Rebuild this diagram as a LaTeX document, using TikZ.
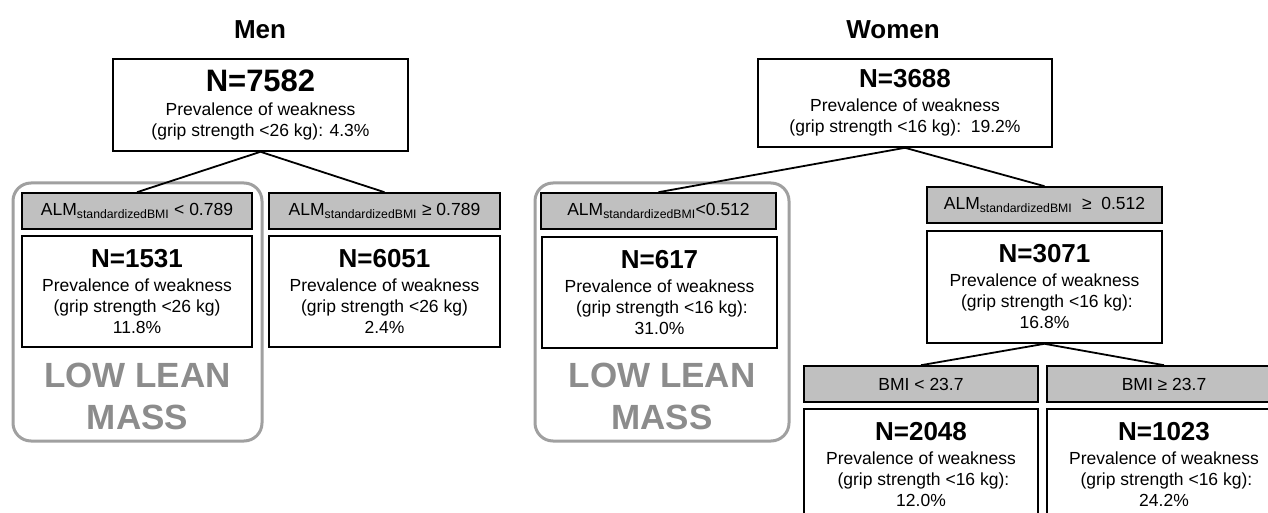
\documentclass[tikz,border=0pt]{standalone}
\usepackage{fontspec}
\setmainfont{Liberation Sans}
\definecolor{labgray}{HTML}{C0C0C0}
\definecolor{framegray}{HTML}{A0A0A0}
\definecolor{lowgray}{HTML}{8C8C8C}
\tikzset{
  whitebox/.style={draw=black, line width=1.6pt, fill=white, inner sep=0pt, align=center,
    font=\fontsize{17.5}{21}\selectfont},
  graybox/.style={whitebox, fill=labgray},
  lowframe/.style={draw=framegray, line width=3pt, rounded corners=18pt, inner sep=0pt},
  conn/.style={line width=1.8pt, draw=black},
  lowtext/.style={text=lowgray, font=\fontsize{35}{42}\selectfont\bfseries, align=center, inner sep=0pt},
  titletext/.style={font=\fontsize{26}{26}\selectfont\bfseries, inner sep=0pt},
}
\newcommand{\bigN}[1]{{\fontsize{26}{26}\selectfont\bfseries #1}}
\newcommand{\hugeN}[1]{{\fontsize{31}{31}\selectfont\bfseries #1}}
\newcommand{\alm}{ALM\textsubscript{standardizedBMI}}
\begin{document}
\begin{tikzpicture}[x=1pt,y=-1pt]
\useasboundingbox (0,0) rectangle (1268,513);
\clip (0,0) rectangle (1268,513);
\fill[white] (0,0) rectangle (1268,513);

% ---------- Men ----------
\node[titletext] (mtitle) at (260,30) {Men};
\node[lowframe, minimum width=249pt, minimum height=258pt] (mframe) at (137.5,312) {};
\node[whitebox, minimum width=295pt, minimum height=92pt] (mtop) at (260.5,105)
  {\hugeN{N=7582}\\[3pt] Prevalence of weakness\\(grip strength <26 kg): 4.3\%};
\node[graybox, minimum width=230pt, minimum height=36pt] (mlab1) at (137,211)
  {\alm{} < 0.789};
\node[graybox, minimum width=231pt, minimum height=36pt] (mlab2) at (384.5,211)
  {\alm{} ≥ 0.789};
\node[whitebox, minimum width=230pt, minimum height=111pt] (mbox1) at (137,291.5)
  {\bigN{N=1531}\\[3pt] Prevalence of weakness\\(grip strength <26 kg)\\11.8\%};
\node[whitebox, minimum width=231pt, minimum height=111pt] (mbox2) at (384.5,291.5)
  {\bigN{N=6051}\\[3pt] Prevalence of weakness\\(grip strength <26 kg)\\2.4\%};
\node[lowtext] (mlow) at (137.5,396) {LOW LEAN\\MASS};
\draw[conn] (mtop.south) -- (mlab1.north);
\draw[conn] (mtop.south) -- (mlab2.north);

% ---------- Women ----------
\node[titletext] (wtitle) at (893,30) {Women};
\node[lowframe, minimum width=254pt, minimum height=258pt] (wframe) at (662,312) {};
\node[whitebox, minimum width=294pt, minimum height=88pt] (wtop) at (905,103)
  {\bigN{N=3688}\\[3pt] Prevalence of weakness\\(grip strength <16 kg):\ \ 19.2\%};
\node[graybox, minimum width=235pt, minimum height=36pt] (wlab1) at (658.5,211)
  {\alm<0.512};
\node[whitebox, minimum width=235pt, minimum height=111pt] (wbox1) at (659.5,292.5)
  {\bigN{N=617}\\[3pt] Prevalence of weakness\\\ (grip strength <16 kg):\\31.0\%};
\node[lowtext] (wlow) at (662,396) {LOW LEAN\\MASS};
\node[graybox, minimum width=235pt, minimum height=36pt] (wlab2) at (1044.5,205)
  {\alm\ \ ≥\ \ 0.512};
\node[whitebox, minimum width=235pt, minimum height=112pt] (wbox2) at (1044.5,287)
  {\bigN{N=3071}\\[3pt] Prevalence of weakness\\\ (grip strength <16 kg):\\16.8\%};
\node[graybox, minimum width=234pt, minimum height=36pt] (blab1) at (921,384)
  {BMI < 23.7};
\node[graybox, minimum width=234pt, minimum height=36pt] (blab2) at (1164,384)
  {BMI ≥ 23.7};
\node[whitebox, minimum width=234pt, minimum height=111pt] (bbox1) at (921,464.5)
  {\bigN{N=2048}\\[3pt] Prevalence of weakness\\\ (grip strength <16 kg):\\12.0\%};
\node[whitebox, minimum width=234pt, minimum height=111pt] (bbox2) at (1164,464.5)
  {\bigN{N=1023}\\[3pt] Prevalence of weakness\\\ (grip strength <16 kg):\\24.2\%};
\draw[conn] (wtop.south) -- (wlab1.north);
\draw[conn] (wtop.south) -- (wlab2.north);
\draw[conn] (wbox2.south) -- (blab1.north);
\draw[conn] (wbox2.south) -- (blab2.north);
\end{tikzpicture}
\end{document}
